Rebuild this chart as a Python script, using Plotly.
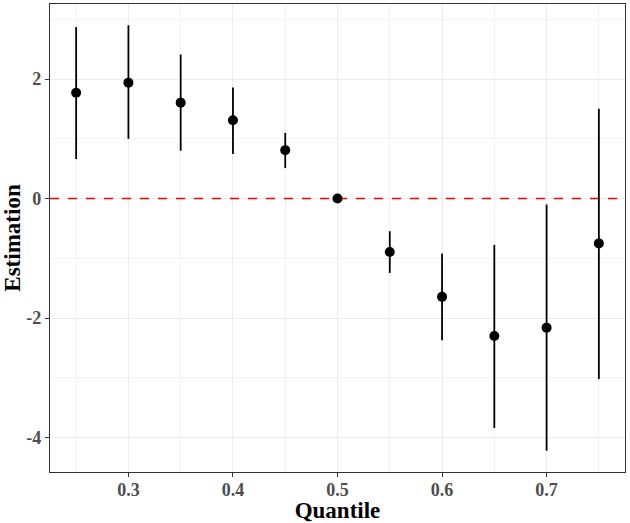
import plotly.graph_objects as go

quantile = [0.25, 0.30, 0.35, 0.40, 0.45, 0.50, 0.55, 0.60, 0.65, 0.70, 0.75]
estimate = [1.77, 1.94, 1.605, 1.31, 0.81, 0.0, -0.893, -1.645, -2.30, -2.16, -0.75]
upper = [2.87, 2.90, 2.41, 1.86, 1.10, 0.0, -0.547, -0.92, -0.776, -0.10, 1.505]
lower = [0.66, 1.00, 0.80, 0.746, 0.51, 0.0, -1.244, -2.37, -3.84, -4.22, -3.02]
ref_value = 0
x_ticks = [0.3, 0.4, 0.5, 0.6, 0.7]
y_ticks = [-4, -2, 0, 2]

err_plus = [u - e for u, e in zip(upper, estimate)]
err_minus = [e - l for e, l in zip(estimate, lower)]

# ggplot-style 5% expansion
ymin_d, ymax_d = min(lower), max(upper)
ypad = (ymax_d - ymin_d) * 0.05
xmin_d, xmax_d = min(quantile), max(quantile)
xpad = (xmax_d - xmin_d) * 0.05
x_range = [xmin_d - xpad, xmax_d + xpad]

fig = go.Figure()
# horizontal reference line spanning the full panel (drawn under the points)
fig.add_trace(go.Scatter(
    x=x_range, y=[ref_value, ref_value], mode="lines",
    line=dict(color="red", width=1.4, dash="dash"),
    showlegend=False, hoverinfo="skip",
))
fig.add_trace(go.Scatter(
    x=quantile, y=estimate, mode="markers",
    marker=dict(color="black", size=10),
    error_y=dict(type="data", array=err_plus, arrayminus=err_minus,
                 color="black", thickness=1.8, width=0, visible=True),
    showlegend=False,
))

tickfont = dict(family="Liberation Serif", size=18, color="#4D4D4D", weight="bold")
titlefont = dict(family="Liberation Serif", size=23, color="black", weight="bold")

common = dict(
    showgrid=True, gridcolor="#EBEBEB", gridwidth=1.1,
    showline=True, linecolor="#333333", linewidth=1.2, mirror=True,
    ticks="outside", ticklen=4, tickcolor="#333333", tickwidth=1.1,
    tickfont=tickfont, zeroline=False, automargin=False,
)

fig.update_xaxes(
    range=x_range, tickvals=x_ticks,
    ticktext=[f"{v:.1f}" for v in x_ticks],
    minor=dict(dtick=0.1, tick0=0.25, showgrid=True, gridcolor="#F2F2F2", gridwidth=0.6, ticks=""),
    title=dict(text="Quantile", font=titlefont),
    ticklabelstandoff=-3,
    **common,
)
fig.update_yaxes(
    range=[ymin_d - ypad, ymax_d + ypad], tickvals=y_ticks,
    ticktext=[str(v) for v in y_ticks],
    minor=dict(dtick=2, tick0=-3, showgrid=True, gridcolor="#F2F2F2", gridwidth=0.6, ticks=""),
    title=dict(text="Estimation", font=titlefont),
    **common,
)

fig.update_layout(
    width=630, height=523,
    margin=dict(l=50, r=5, t=4, b=51),
    plot_bgcolor="white", paper_bgcolor="white",
)

fig.write_html("out.html")
